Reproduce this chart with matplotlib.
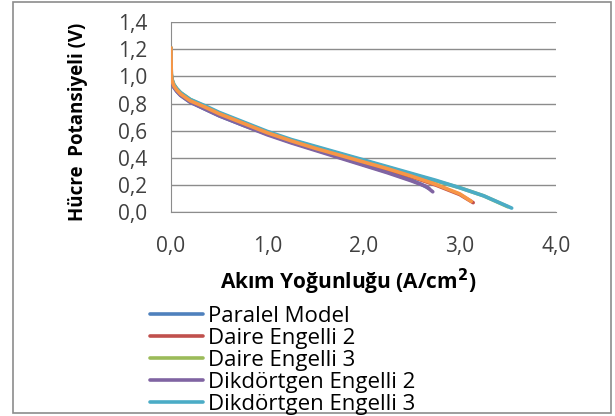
import matplotlib.pyplot as plt
from matplotlib.patches import Rectangle
from matplotlib.ticker import FuncFormatter

# Polarization curves: current density (A/cm2) vs cell potential (V)
x_paralel = [0, 0.003, 0.01, 0.03, 0.06, 0.1, 0.2, 0.35, 0.5, 0.75, 1.0, 1.25, 1.5, 1.75, 2.0, 2.25, 2.5, 2.6, 2.68]
y_paralel = [1.20, 1.00, 0.96, 0.92, 0.89, 0.86, 0.81, 0.76, 0.71, 0.64, 0.575, 0.515, 0.46, 0.405, 0.35, 0.295, 0.235, 0.205, 0.175]

x_daire2 = [0, 0.003, 0.01, 0.03, 0.06, 0.1, 0.2, 0.35, 0.5, 0.75, 1.0, 1.25, 1.5, 1.75, 2.0, 2.25, 2.5, 2.75, 3.0, 3.14]
y_daire2 = [1.21, 1.01, 0.97, 0.93, 0.90, 0.87, 0.82, 0.77, 0.72, 0.65, 0.58, 0.52, 0.465, 0.415, 0.365, 0.315, 0.26, 0.20, 0.13, 0.07]

x_daire3 = [0, 0.003, 0.01, 0.03, 0.06, 0.1, 0.2, 0.35, 0.5, 0.75, 1.0, 1.25, 1.5, 1.75, 2.0, 2.25, 2.5, 2.75, 3.0, 3.25, 3.50]
y_daire3 = [1.21, 1.02, 0.98, 0.94, 0.91, 0.88, 0.83, 0.78, 0.73, 0.66, 0.59, 0.53, 0.48, 0.43, 0.38, 0.33, 0.28, 0.23, 0.18, 0.12, 0.04]

x_dik2 = [0, 0.003, 0.01, 0.03, 0.06, 0.1, 0.2, 0.35, 0.5, 0.75, 1.0, 1.25, 1.5, 1.75, 2.0, 2.25, 2.5, 2.65, 2.72]
y_dik2 = [1.20, 1.00, 0.96, 0.92, 0.89, 0.86, 0.81, 0.76, 0.71, 0.64, 0.57, 0.51, 0.455, 0.40, 0.345, 0.29, 0.23, 0.19, 0.15]

x_dik3 = [0, 0.003, 0.01, 0.03, 0.06, 0.1, 0.2, 0.35, 0.5, 0.75, 1.0, 1.25, 1.5, 1.75, 2.0, 2.25, 2.5, 2.75, 3.0, 3.25, 3.54]
y_dik3 = [1.21, 1.02, 0.98, 0.94, 0.91, 0.88, 0.83, 0.785, 0.735, 0.665, 0.595, 0.535, 0.485, 0.435, 0.385, 0.335, 0.285, 0.235, 0.18, 0.12, 0.03]

x_dik4 = [0, 0.003, 0.01, 0.03, 0.06, 0.1, 0.2, 0.35, 0.5, 0.75, 1.0, 1.25, 1.5, 1.75, 2.0, 2.25, 2.5, 2.75, 3.0, 3.12]
y_dik4 = [1.21, 1.01, 0.97, 0.93, 0.90, 0.87, 0.82, 0.775, 0.725, 0.655, 0.585, 0.525, 0.47, 0.42, 0.37, 0.32, 0.265, 0.205, 0.135, 0.08]

labels = ["Paralel Model", "Daire Engelli 2", "Daire Engelli 3",
          "Dikdörtgen Engelli 2", "Dikdörtgen Engelli 3"]
colors = ["#4F81BD", "#C0504D", "#9BBB59", "#8064A2", "#4BACC6", "#F79646"]

plt.rcParams['font.family'] = ['Open Sans', 'DejaVu Sans']

fig = plt.figure(figsize=(6.15, 4.16), dpi=100)
ax = fig.add_axes([0.278, 0.490, 0.626, 0.457])

series = [(x_paralel, y_paralel), (x_daire2, y_daire2), (x_daire3, y_daire3),
          (x_dik2, y_dik2), (x_dik3, y_dik3), (x_dik4, y_dik4)]
for i, (xs, ys) in enumerate(series):
    lab = labels[i] if i < len(labels) else None
    ax.plot(xs, ys, color=colors[i], lw=2.6, label=lab, solid_capstyle='round', zorder=3 + i)

ax.set_xlim(0, 4)
ax.set_ylim(0, 1.4)
ax.set_xticks([0, 1, 2, 3, 4])
ax.set_yticks([0, 0.2, 0.4, 0.6, 0.8, 1.0, 1.2, 1.4])
comma = FuncFormatter(lambda v, p: f"{v:.1f}".replace(".", ","))
ax.xaxis.set_major_formatter(comma)
ax.yaxis.set_major_formatter(comma)
ax.tick_params(length=0, labelsize=15, colors="#404040")
ax.tick_params(axis='y', pad=17)
ax.tick_params(axis='x', pad=17)

ax.grid(axis='y', color="#8c8c8c", lw=1)
ax.set_axisbelow(True)
for side in ['top', 'right']:
    ax.spines[side].set_visible(False)
for side in ['left', 'bottom']:
    ax.spines[side].set_color("#8c8c8c")

fig.text(0.127, 0.707, "Hücre  Potansiyeli (V)", rotation=90, ha='center', va='center',
         fontsize=13.5, fontweight='bold')
fig.text(0.566, 0.322, "Akım Yoğunluğu (A/cm$^\\mathbf{2}$)", ha='center', va='center',
         fontsize=15, fontweight='bold')

handles, labs = ax.get_legend_handles_labels()
fig.legend(handles, labs, loc='upper left', bbox_to_anchor=(0.244, 0.264),
           frameon=False, fontsize=16, handlelength=2.4, handletextpad=0.22,
           labelspacing=0.04, borderaxespad=0, borderpad=0)

# outer chart border
fig.patches.append(Rectangle((0.021, 0.007), 0.972, 0.988, transform=fig.transFigure,
                             fill=False, edgecolor="#8c8c8c", lw=1.2))

fig.savefig("out.png", dpi=100)
